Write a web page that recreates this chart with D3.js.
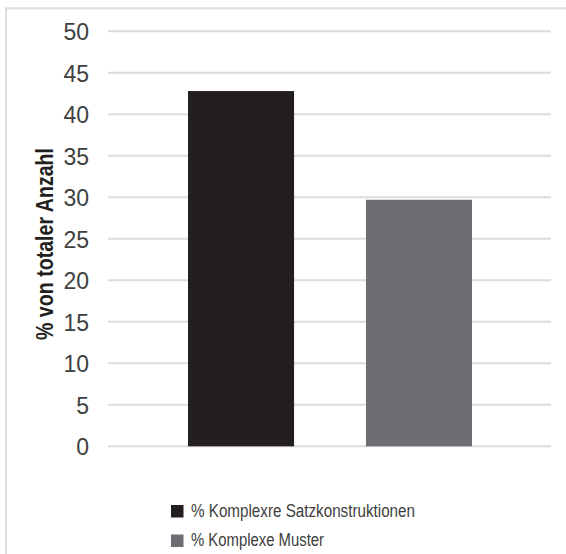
<!DOCTYPE html>
<html><head><meta charset="utf-8">
<script src="https://cdn.jsdelivr.net/npm/d3@7"></script>
<style>body{margin:0;background:#fff}svg{display:block}text{font-family:"Liberation Sans",Arial,sans-serif}</style>
</head><body>
<script>
const series = ["% Komplexre Satzkonstruktionen", "% Komplexe Muster"];
const values = [42.8, 29.7];
const colors = ["#231f20", "#6d6e71"];
const yTicks = [0, 5, 10, 15, 20, 25, 30, 35, 40, 45, 50];
const yTitle = "% von totaler Anzahl";

const W = 566, H = 554;
const svg = d3.select("body").append("svg").attr("width", W).attr("height", H);

svg.append("rect").attr("x", 6).attr("y", 8.3).attr("width", 600).attr("height", 600)
  .attr("fill", "#fff").attr("stroke", "#dcdcdc").attr("stroke-width", 2);

const plotL = 108, plotR = 551;
const y = d3.scaleLinear().domain([0, 50]).range([446.3, 31.3]);
const x = d3.scaleBand().domain(series).range([188, 472]).paddingInner(0.404).paddingOuter(0);

// gridlines
svg.append("g").selectAll("line").data(yTicks).join("line")
  .attr("x1", plotL).attr("x2", plotR)
  .attr("y1", d => y(d)).attr("y2", d => y(d))
  .attr("stroke", "#dcdcdc").attr("stroke-width", 2);

// y axis labels
const yAxis = d3.axisLeft(y).tickValues(yTicks).tickSize(0).tickPadding(0);
const ga = svg.append("g").attr("transform", `translate(89,0)`).call(yAxis);
ga.select(".domain").remove();
ga.selectAll("text").attr("font-size", 23).attr("fill", "#404040")
  .attr("font-family", "'Liberation Sans',Arial,sans-serif").attr("dy", "0.36em");

// bars
svg.append("g").selectAll("rect").data(series).join("rect")
  .attr("x", d => x(d)).attr("width", x.bandwidth())
  .attr("y", (d, i) => y(values[i])).attr("height", (d, i) => y(0) - y(values[i]))
  .attr("fill", (d, i) => colors[i]);

// y title
svg.append("text").attr("transform", "translate(53,244) rotate(-90)")
  .attr("text-anchor", "middle").attr("font-size", 23).attr("font-weight", "bold")
  .attr("textLength", 192).attr("lengthAdjust", "spacingAndGlyphs")
  .attr("fill", "#231f20").text(yTitle);

// legend
const legendLen = [224, 133];
const lg = svg.append("g").selectAll("g").data(series).join("g")
  .attr("transform", (d, i) => `translate(171,${505 + i * 29.5})`);
lg.append("rect").attr("width", 12.5).attr("height", 12.5).attr("fill", (d, i) => colors[i]);
lg.append("text").attr("x", 20).attr("y", 11.5).attr("font-size", 18)
  .attr("textLength", (d, i) => legendLen[i]).attr("lengthAdjust", "spacingAndGlyphs")
  .attr("fill", "#404040").text(d => d);
</script>
</body></html>
